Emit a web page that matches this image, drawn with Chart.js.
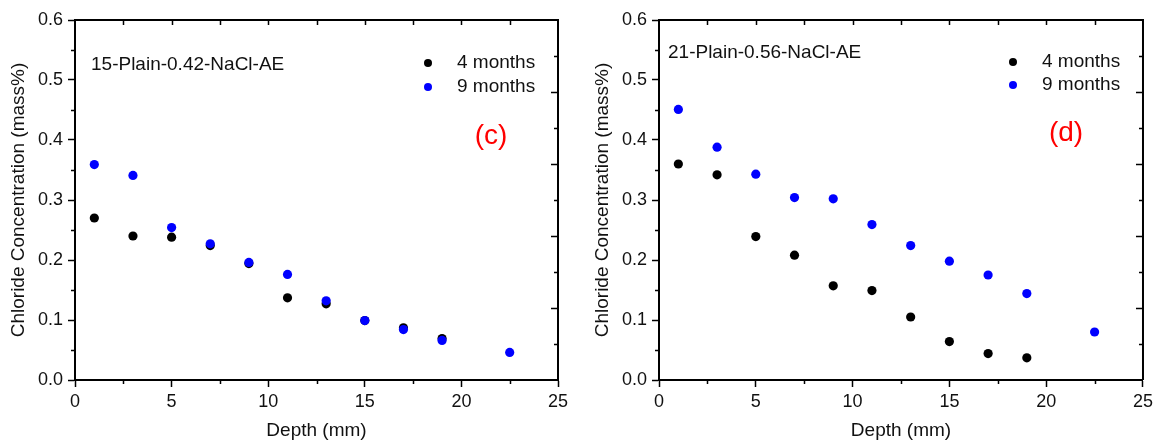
<!DOCTYPE html>
<html>
<head>
<meta charset="utf-8">
<script src="https://cdn.jsdelivr.net/npm/chart.js@4.4.1/dist/chart.umd.min.js"></script>
<style>
  html, body { margin: 0; padding: 0; background: #fff; }
  #wrap { position: relative; width: 1157px; height: 442px; }
  canvas { position: absolute; top: 0; }
  #chartC { left: 0; }
  #chartD { left: 578px; }
</style>
</head>
<body>
<div id="wrap">
  <canvas id="chartC" width="578" height="442"></canvas>
  <canvas id="chartD" width="579" height="442"></canvas>
</div>
<script>
// depth of each slice (mm)
const depth4 = [1, 3, 5, 7, 9, 11, 13, 15, 17, 19];
const depth9 = [1, 3, 5, 7, 9, 11, 13, 15, 17, 19, 22.5];

// chloride content (mass%) - 15-Plain-0.42-NaCl-AE
const plain15_4m = [0.270, 0.240, 0.238, 0.224, 0.194, 0.137, 0.127, 0.099, 0.087, 0.069];
const plain15_9m = [0.359, 0.341, 0.254, 0.227, 0.196, 0.176, 0.132, 0.099, 0.084, 0.066, 0.046];

// chloride content (mass%) - 21-Plain-0.56-NaCl-AE
const plain21_4m = [0.360, 0.342, 0.239, 0.208, 0.157, 0.149, 0.105, 0.064, 0.044, 0.037];
const plain21_9m = [0.451, 0.388, 0.343, 0.304, 0.302, 0.259, 0.224, 0.198, 0.175, 0.144, 0.080];

const seriesNames = ["4 months", "9 months"];
const xTicks = [0, 5, 10, 15, 20, 25];
const yTicks = [0.0, 0.1, 0.2, 0.3, 0.4, 0.5, 0.6];

const FONT = "'Liberation Sans', Arial, sans-serif";
const INK = "#111111";

function toPoints(xs, ys) {
    return ys.map((v, i) => ({ x: xs[i], y: v }));
}

// closed frame, minor ticks and the mirrored ticks on top / right
const framePlugin = {
    id: "frame",
    afterDatasetsDraw(chart) {
        const { ctx, chartArea: a, scales: { x, y } } = chart;
        ctx.save();
        ctx.strokeStyle = "#000";
        ctx.lineWidth = 2;
        ctx.beginPath();
        ctx.moveTo(a.left, a.top);
        ctx.lineTo(a.right, a.top);
        ctx.lineTo(a.right, a.bottom);
        ctx.stroke();

        ctx.lineWidth = 1.5;
        ctx.beginPath();
        // minor ticks, outside
        for (let k = 0; k < 6; k++) {
            const py = Math.round(y.getPixelForValue(0.05 + k * 0.1)) + 0.5;
            ctx.moveTo(a.left, py);
            ctx.lineTo(a.left - 4, py);
        }
        for (let k = 0; k < 5; k++) {
            const px = Math.round(x.getPixelForValue(2.5 + k * 5)) + 0.5;
            ctx.moveTo(px, a.bottom);
            ctx.lineTo(px, a.bottom + 4);
        }
        // top ticks, inside
        for (let k = 1; k < 10; k++) {
            const px = Math.round(x.getPixelForValue(k * 2.5)) + 0.5;
            ctx.moveTo(px, a.top);
            ctx.lineTo(px, a.top + 5);
        }
        // right ticks, inside
        for (let k = 1; k < 10; k++) {
            const py = Math.round(y.getPixelForValue(k * 0.06)) + 0.5;
            ctx.moveTo(a.right, py);
            ctx.lineTo(a.right - (k % 2 === 0 ? 7 : 4), py);
        }
        ctx.stroke();
        ctx.restore();
    }
};

// sample name, legend and panel letter
const notesPlugin = {
    id: "notes",
    afterDraw(chart, args, opts) {
        const { ctx, chartArea: a } = chart;
        ctx.save();
        ctx.textBaseline = "middle";
        ctx.fillStyle = INK;
        ctx.font = "19px " + FONT;
        ctx.fillText(opts.sample, a.left + opts.sampleDx, opts.sampleY);

        chart.data.datasets
            .slice()
            .sort((p, q) => seriesNames.indexOf(p.label) - seriesNames.indexOf(q.label))
            .forEach((ds, i) => {
                const yy = opts.legendY + i * opts.legendGap;
                ctx.fillStyle = ds.backgroundColor;
                ctx.beginPath();
                ctx.arc(a.right - 130, yy, 4, 0, Math.PI * 2);
                ctx.fill();
                ctx.fillStyle = INK;
                ctx.fillText(ds.label, a.right - 101, yy);
            });

        ctx.fillStyle = "#ff0000";
        ctx.font = "28px " + FONT;
        ctx.textAlign = "center";
        ctx.fillText(opts.tag, a.right + opts.tagDx, opts.tagY);
        ctx.restore();
    }
};

function makePanel(canvasId, s4, s9, notes, padLeft, padRight) {
    const ctx = document.getElementById(canvasId).getContext("2d");
    return new Chart(ctx, {
        type: "scatter",
        data: {
            datasets: [
                {
                    label: seriesNames[1],
                    data: toPoints(depth9, s9),
                    backgroundColor: "#0000ff",
                    borderWidth: 0,
                    pointRadius: 4.6,
                    order: 0
                },
                {
                    label: seriesNames[0],
                    data: toPoints(depth4, s4),
                    backgroundColor: "#000000",
                    borderWidth: 0,
                    pointRadius: 4.6,
                    order: 1
                }
            ]
        },
        options: {
            responsive: false,
            animation: false,
            layout: { padding: { top: 20, right: padRight, bottom: 0, left: padLeft } },
            scales: {
                x: {
                    type: "linear",
                    min: 0,
                    max: 25,
                    afterBuildTicks(scale) {
                        scale.ticks = xTicks.map(v => ({ value: v }));
                    },
                    afterFit(scale) { scale.height = 62; },
                    ticks: { padding: 4, color: INK, font: { family: FONT, size: 18 } },
                    grid: { drawOnChartArea: false, tickLength: 7, tickWidth: 1.5, tickColor: "#000" },
                    border: { color: "#000", width: 2 },
                    title: {
                        display: true,
                        text: "Depth (mm)",
                        color: INK,
                        font: { family: FONT, size: 19 },
                        padding: { top: 0, bottom: 0 }
                    }
                },
                y: {
                    type: "linear",
                    min: 0,
                    max: 0.6,
                    afterBuildTicks(scale) {
                        scale.ticks = yTicks.map(v => ({ value: v }));
                    },
                    afterFit(scale) { scale.width = 75; },
                    ticks: {
                        padding: 5,
                        color: INK,
                        font: { family: FONT, size: 18 },
                        callback: v => v.toFixed(1)
                    },
                    grid: { drawOnChartArea: false, tickLength: 7, tickWidth: 1.5, tickColor: "#000" },
                    border: { color: "#000", width: 2 },
                    title: {
                        display: true,
                        text: "Chloride Concentration (mass%)",
                        color: INK,
                        font: { family: FONT, size: 19 },
                        padding: { top: 7, bottom: 0 }
                    }
                }
            },
            plugins: {
                legend: { display: false },
                tooltip: { enabled: false },
                notes: notes
            }
        },
        plugins: [framePlugin, notesPlugin]
    });
}

makePanel("chartC", plain15_4m, plain15_9m, {
    sample: "15-Plain-0.42-NaCl-AE", sampleDx: 16, sampleY: 65,
    legendY: 63, legendGap: 24,
    tag: "(c)", tagDx: -67, tagY: 136
}, 0, 20);

makePanel("chartD", plain21_4m, plain21_9m, {
    sample: "21-Plain-0.56-NaCl-AE", sampleDx: 9, sampleY: 53,
    legendY: 62, legendGap: 23,
    tag: "(d)", tagDx: -77, tagY: 133
}, 6, 14);
</script>
</body>
</html>
